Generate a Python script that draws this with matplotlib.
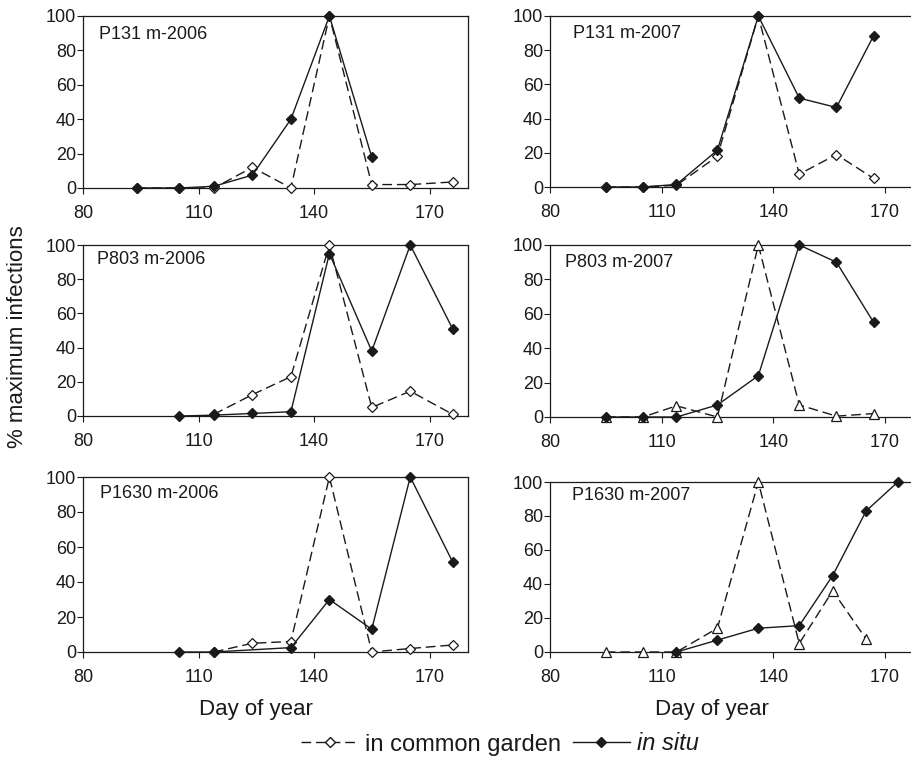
import matplotlib
matplotlib.use("Agg")
import matplotlib.pyplot as plt
from matplotlib.lines import Line2D

plt.rcParams['font.family'] = ['Liberation Sans', 'DejaVu Sans']

# ---------------- data ----------------
titles = ["P131 m-2006", "P131 m-2007", "P803 m-2006",
          "P803 m-2007", "P1630 m-2006", "P1630 m-2007"]

# P131 2006
situ_days_131_06 = [94, 105, 114, 124, 134, 144, 155]
situ_131_06 = [0, 0, 1, 7.5, 40, 100, 18]
garden_days_131_06 = [94, 105, 114, 124, 134, 144, 155, 165, 176]
garden_131_06 = [0, 0, 0, 12, 0, 100, 2, 2, 3.5]

# P131 2007
situ_days_131_07 = [95, 105, 114, 125, 136, 147, 157, 167]
situ_131_07 = [0, 0, 1.5, 21.5, 100, 52, 46.5, 88.5]
garden_days_131_07 = [95, 105, 114, 125, 136, 147, 157, 167]
garden_131_07 = [0, 0, 1, 18, 100, 7.5, 19, 5]

# P803 2006
situ_days_803_06 = [105, 114, 124, 134, 144, 155, 165, 176]
situ_803_06 = [0, 0.5, 1.5, 2.5, 95, 38, 100, 51]
garden_days_803_06 = [114, 124, 134, 144, 155, 165, 176]
garden_803_06 = [1, 12.5, 23, 100, 5, 14.5, 1]

# P803 2007
situ_days_803_07 = [95, 105, 114, 125, 136, 147, 157, 167]
situ_803_07 = [0, 0, 0, 7, 24, 100, 90, 55]
garden_days_803_07 = [95, 105, 114, 125, 136, 147, 157, 167]
garden_803_07 = [0, 0, 6.5, 0, 100, 7, 0.5, 2]

# P1630 2006
situ_days_1630_06 = [105, 114, 134, 144, 155, 165, 176]
situ_1630_06 = [0, 0, 2.5, 30, 13, 100, 51.5]
garden_days_1630_06 = [114, 124, 134, 144, 155, 165, 176]
garden_1630_06 = [0, 5, 6, 100, 0, 2, 4]

# P1630 2007
situ_days_1630_07 = [114, 125, 136, 147, 156, 165, 173.5]
situ_1630_07 = [0, 7, 14, 15.5, 45, 83, 100]
garden_days_1630_07 = [95, 105, 114, 125, 136, 147, 156, 165]
garden_1630_07 = [0, 0, 0, 14, 100, 5, 36, 7.5]

x_ticks = [80, 110, 140, 170]
y_ticks = [0, 20, 40, 60, 80, 100]

panels = [
    (situ_days_131_06, situ_131_06, garden_days_131_06, garden_131_06, 'D'),
    (situ_days_131_07, situ_131_07, garden_days_131_07, garden_131_07, 'D'),
    (situ_days_803_06, situ_803_06, garden_days_803_06, garden_803_06, 'D'),
    (situ_days_803_07, situ_803_07, garden_days_803_07, garden_803_07, '^'),
    (situ_days_1630_06, situ_1630_06, garden_days_1630_06, garden_1630_06, 'D'),
    (situ_days_1630_07, situ_1630_07, garden_days_1630_07, garden_1630_07, '^'),
]

# ---------------- layout (pixels) ----------------
W, H = 912, 757
# left, y of 100, y of 0, right
layout = [
    (83, 16, 188, 468),
    (550, 16, 187, 922),
    (83, 245, 416, 468),
    (550, 245, 417, 922),
    (83, 477, 652, 468),
    (550, 482, 652, 922),
]
title_pos = [(99, 39), (573, 38), (97, 264), (565, 267), (100, 498), (572, 500)]

ink = '#1a1a1a'
fig = plt.figure(figsize=(W / 100, H / 100), dpi=100)

dash = (0, (7, 3.5))

for (l, t, b, r), (sd, sv, gd, gv, gm), title, (tx, ty) in zip(layout, panels, titles, title_pos):
    ax = fig.add_axes([l / W, 1 - b / H, (r - l) / W, (b - t) / H])
    ax.set_xlim(80, 180)
    ax.set_ylim(0, 100)
    gms = 4.6 if gm == 'D' else 6.5
    ax.plot(gd, gv, linestyle=dash, color=ink, lw=1.0, marker=gm, ms=gms,
            mfc='white', mec=ink, mew=0.9, clip_on=False, zorder=3)
    ax.plot(sd, sv, linestyle='-', color=ink, lw=1.0, marker='D', ms=5,
            mfc=ink, mec=ink, clip_on=False, zorder=4)
    ax.set_xticks(x_ticks)
    ax.set_yticks(y_ticks)
    ax.tick_params(axis='both', direction='out', length=4, width=0.8,
                   color=ink, labelsize=13, labelcolor=ink)
    ax.tick_params(axis='x', pad=8)
    ax.tick_params(axis='y', pad=1)
    for s in ax.spines.values():
        s.set_linewidth(0.9)
        s.set_color(ink)
    fig.text(tx / W, 1 - ty / H, title, fontsize=13, color=ink, va='baseline', ha='left')

fig.text(256 / W, 1 - 715 / H, "Day of year", fontsize=16, color=ink, ha='center', va='baseline')
fig.text(712 / W, 1 - 715 / H, "Day of year", fontsize=16, color=ink, ha='center', va='baseline')
fig.text(18 / W, 1 - 337 / H, "% maximum infections", fontsize=16, color=ink,
         rotation=90, ha='center', va='center')

handles = [
    Line2D([], [], linestyle=dash, color=ink, lw=1.0, marker='D', ms=4.6, mfc='white', mec=ink),
    Line2D([], [], linestyle='-', color=ink, lw=1.0, marker='D', ms=5, mfc=ink, mec=ink),
]
leg = fig.legend(handles, ["in common garden", "in situ"], loc='center',
                 bbox_to_anchor=(500 / W, 1 - 744 / H), ncol=2, frameon=False,
                 fontsize=17, handlelength=2.4, handletextpad=0.3, columnspacing=0.5,
                 borderpad=0, borderaxespad=0)
leg.get_texts()[1].set_style('italic')
for t in leg.get_texts():
    t.set_color(ink)

fig.savefig("out.png", dpi=100)
